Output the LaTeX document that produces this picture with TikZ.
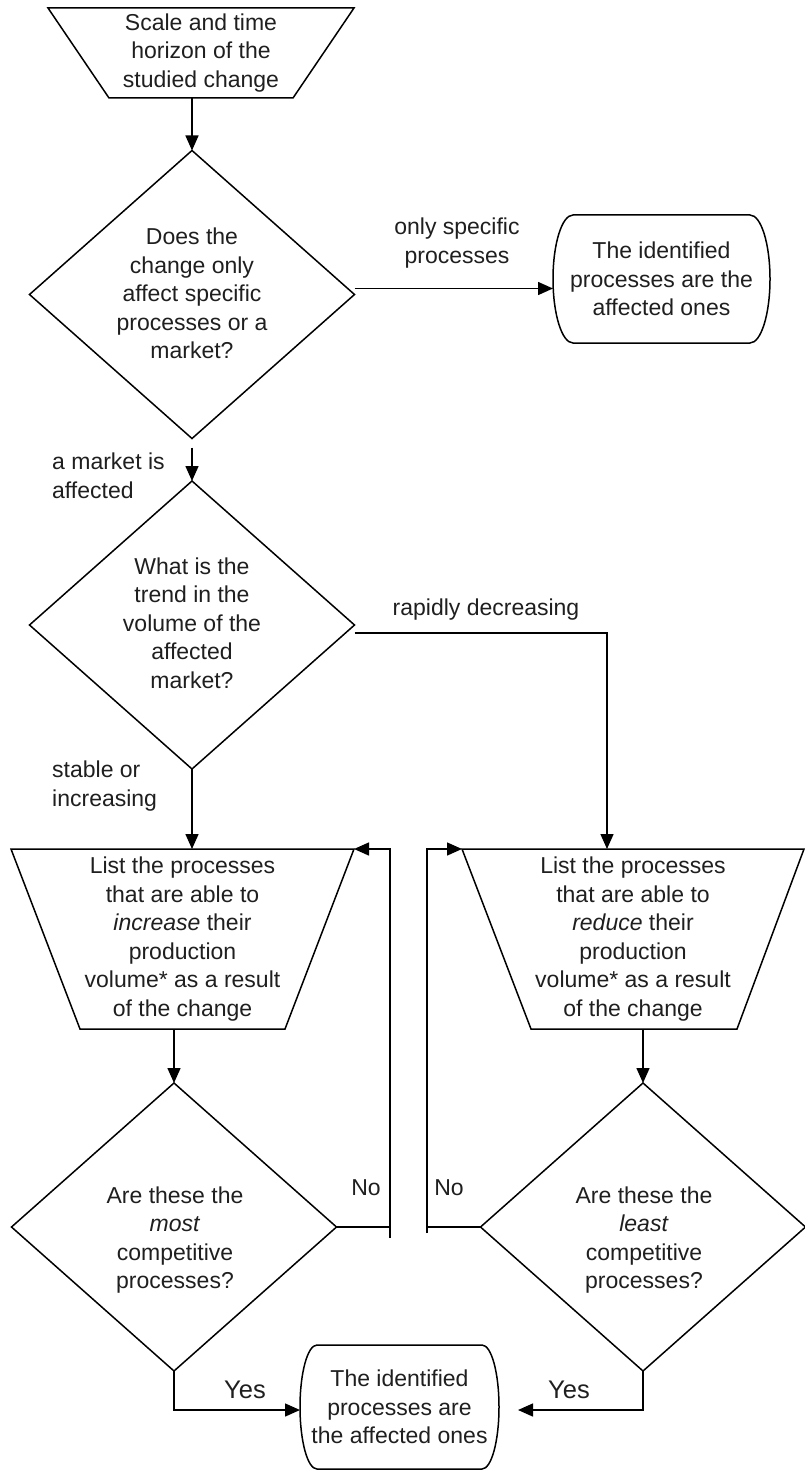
\documentclass[tikz,border=0pt]{standalone}
\usepackage{fontspec}
\setmainfont{Liberation Sans}
\usetikzlibrary{shapes.geometric,arrows.meta,calc}
\begin{document}
\begin{tikzpicture}[x=1pt,y=-1pt,
  every node/.style={font=\fontsize{23}{28.5}\selectfont, text=black!88},
  lbl/.style={align=center, inner sep=0pt},
  big/.style={lbl, font=\fontsize{25.5}{30}\selectfont},
  box/.style={rectangle, draw=none, inner sep=0pt, outer sep=0pt, align=center},
  dia/.style={diamond, draw, line width=1.5pt, inner sep=0pt, outer sep=0pt,
              minimum width=325pt, minimum height=288pt},
  flow/.style={line width=1.5pt, line join=miter},
  arr/.style={flow, -{Triangle[length=15pt,width=13pt]}}]
\useasboundingbox (0,0) rectangle (805,1471);
\fill[white] (0,0) rectangle (805,1471);

% start: scope of the change
\node[box, minimum width=306pt, minimum height=90pt] (t1) at (201,53)
  {Scale and time\\horizon of the\\studied change};
\draw[flow] (t1.north west) -- (t1.north east) -- ([xshift=-61pt]t1.south east)
  -- ([xshift=61pt]t1.south west) -- cycle;

% first decision
\node[dia] (d1) at (192,294.5) {};
\node[lbl] (d1t) at (192,293.5) {Does the\\change only\\affect specific\\processes or a\\market?};
\draw[arr] (d1.north |- t1.south) -- (d1.north);

% specific processes outcome
\node[box, minimum width=217pt, minimum height=128pt] (r1) at (661.5,279)
  {The identified\\processes are the\\affected ones};
\draw[flow] ([xshift=20pt]r1.north west) -- ([xshift=-20pt]r1.north east)
  arc[start angle=90, end angle=-90, x radius=20pt, y radius=64pt]
  -- ([xshift=20pt]r1.south west)
  arc[start angle=270, end angle=90, x radius=20pt, y radius=64pt] -- cycle;
\node[lbl] (l1) at (457,243) {only specific\\processes};
\draw[arr] ([yshift=6pt]d1.east) -- ([yshift=6pt]d1.east -| r1.west);

% second decision
\node[dia] (d2) at (192,625) {};
\node[lbl] (d2t) at (192,623) {What is the\\trend in the\\volume of the\\affected\\market?};
\node[lbl, align=left, anchor=west] (l2) at (52,476) {a market is\\affected};
\draw[arr, shorten <=9pt] (d1.south) -- (d2.north);

% increasing branch
\node[box, minimum width=343pt, minimum height=180pt] (t2) at (182.5,939)
  {List the processes\\that are able to\\\textit{increase} their\\production\\volume* as a result\\of the change};
\draw[flow] (t2.north west) -- (t2.north east) -- ([xshift=-69pt]t2.south east)
  -- ([xshift=69pt]t2.south west) -- cycle;
\node[lbl, align=left, anchor=west] (l3) at (52,786) {stable or\\increasing};
\draw[arr] (d2.south) -- (d2.south |- t2.north);

% decreasing branch
\node[box, minimum width=342pt, minimum height=180pt] (t3) at (633,939)
  {List the processes\\that are able to\\\textit{reduce} their\\production\\volume* as a result\\of the change};
\draw[flow] (t3.north west) -- (t3.north east) -- ([xshift=-67pt]t3.south east)
  -- ([xshift=69pt]t3.south west) -- cycle;
\node[lbl] (l4) at (486,610) {rapidly decreasing};
\draw[arr] ([yshift=-8pt]d2.east) -| ([xshift=-26pt]t3.north);

% competitiveness checks
\node[dia] (d3) at (174,1227) {};
\node[lbl] (d3t) at (175,1240) {Are these the\\\textit{most}\\competitive\\processes?};
\draw[arr] (d3.north |- t2.south) -- (d3.north);

\node[dia] (d4) at (643,1227) {};
\node[lbl] (d4t) at (644,1240) {Are these the\\\textit{least}\\competitive\\processes?};
\draw[arr] (d4.north |- t3.south) -- (d4.north);

% feedback loops
\coordinate (nl) at (390,1238);
\coordinate (nr) at (427,1233);
\draw[flow] (d3.east) -- (d3.east -| nl);
\draw[arr] (nl) |- (t2.north east);
\node[lbl] (no1) at (366,1188) {No};
\draw[flow] (d4.west) -- (d4.west -| nr);
\draw[arr] (nr) |- (t3.north west);
\node[lbl] (no2) at (449,1188) {No};

% common outcome
\node[box, minimum width=199pt, minimum height=124pt] (b2) at (399.5,1407)
  {The identified\\processes are\\the affected ones};
\draw[flow] ([xshift=17pt]b2.north west) -- ([xshift=-17pt]b2.north east)
  arc[start angle=90, end angle=-90, x radius=17pt, y radius=62pt]
  -- ([xshift=17pt]b2.south west)
  arc[start angle=270, end angle=90, x radius=17pt, y radius=62pt] -- cycle;
\draw[arr] (d3.south) |- ([yshift=-3pt]b2.west);
\draw[arr, shorten >=19pt] (d4.south) |- ([yshift=-3pt]b2.east);
\node[big] (y1) at (245,1390) {Yes};
\node[big] (y2) at (569,1390) {Yes};
\end{tikzpicture}
\end{document}
